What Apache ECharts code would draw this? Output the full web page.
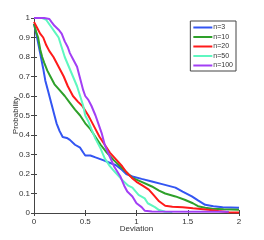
<!DOCTYPE html>
<html><head><meta charset="utf-8">
<script src="https://cdn.jsdelivr.net/npm/echarts@6/dist/echarts.min.js"></script>
<style>html,body{margin:0;padding:0;background:#fff}#c{width:264px;height:240px}</style>
</head><body><div id="c"></div>
<script>
var seriesNames = ['n=3','n=10','n=20','n=50','n=100'];
var xTicks = [0,0.5,1,1.5,2];
var n3 = [[0,0.97],[0.03,0.9],[0.06,0.82],[0.09,0.74],[0.11,0.68],[0.14,0.62],[0.17,0.56],[0.2,0.5],[0.22,0.46],[0.25,0.42],[0.28,0.39],[0.32,0.385],[0.35,0.375],[0.4,0.35],[0.45,0.335],[0.48,0.31],[0.5,0.295],[0.55,0.295],[0.6,0.285],[0.68,0.27],[0.75,0.255],[0.8,0.245],[0.85,0.225],[0.9,0.2],[0.96,0.187],[1.05,0.175],[1.15,0.162],[1.25,0.148],[1.38,0.13],[1.45,0.11],[1.54,0.085],[1.6,0.065],[1.67,0.042],[1.75,0.035],[1.84,0.029],[1.92,0.028],[2,0.027]];
var n10 = [[0,0.97],[0.02,0.93],[0.04,0.9],[0.06,0.84],[0.08,0.8],[0.1,0.77],[0.13,0.73],[0.16,0.7],[0.2,0.66],[0.25,0.63],[0.3,0.6],[0.35,0.565],[0.4,0.53],[0.45,0.5],[0.5,0.46],[0.55,0.43],[0.6,0.39],[0.65,0.35],[0.71,0.31],[0.78,0.27],[0.84,0.24],[0.9,0.21],[0.96,0.18],[1.05,0.16],[1.15,0.136],[1.22,0.115],[1.28,0.1],[1.38,0.085],[1.47,0.068],[1.55,0.05],[1.6,0.035],[1.67,0.027],[1.74,0.022],[1.85,0.019],[2,0.017]];
var n20 = [[0,0.98],[0.03,0.95],[0.06,0.92],[0.09,0.9],[0.12,0.86],[0.15,0.83],[0.19,0.8],[0.24,0.75],[0.29,0.7],[0.33,0.65],[0.38,0.6],[0.43,0.57],[0.47,0.55],[0.53,0.5],[0.55,0.48],[0.6,0.43],[0.64,0.39],[0.69,0.35],[0.74,0.31],[0.8,0.275],[0.86,0.24],[0.9,0.21],[0.955,0.18],[1.0,0.16],[1.06,0.14],[1.12,0.12],[1.17,0.09],[1.22,0.06],[1.28,0.037],[1.35,0.032],[1.45,0.029],[1.55,0.024],[1.7,0.017],[1.8,0.01],[1.9,0.004],[2,0.003]];
var n50 = [[0,1],[0.08,1],[0.12,0.99],[0.16,0.96],[0.2,0.93],[0.24,0.9],[0.27,0.85],[0.3,0.8],[0.34,0.75],[0.38,0.7],[0.42,0.65],[0.45,0.6],[0.48,0.55],[0.5,0.5],[0.53,0.47],[0.56,0.43],[0.6,0.38],[0.65,0.33],[0.69,0.28],[0.74,0.24],[0.79,0.21],[0.86,0.17],[0.92,0.14],[0.96,0.13],[1.02,0.093],[1.08,0.075],[1.11,0.05],[1.18,0.03],[1.22,0.015],[1.28,0.006],[1.35,0.005]];
var n100 = [[0,1],[0.1,1],[0.15,0.995],[0.17,0.98],[0.2,0.96],[0.24,0.94],[0.27,0.92],[0.3,0.88],[0.33,0.85],[0.35,0.82],[0.38,0.79],[0.42,0.75],[0.45,0.69],[0.48,0.63],[0.5,0.6],[0.53,0.58],[0.56,0.55],[0.6,0.5],[0.62,0.47],[0.66,0.41],[0.69,0.35],[0.73,0.3],[0.78,0.24],[0.84,0.19],[0.88,0.14],[0.91,0.11],[0.96,0.085],[1.0,0.05],[1.05,0.03],[1.08,0.012],[1.15,0.008],[1.9,0.006]];
var allData = [n3,n10,n20,n50,n100];
var colors = ['#3355f2','#2ea02a','#ff1a1a','#5ef7c0','#a23ff5'];

var chart = echarts.init(document.getElementById('c'));
var tickStyle = {inside:true,length:3,lineStyle:{color:'#444'}};
var lineSty = {show:true,lineStyle:{color:'#444',width:1}};
var lab = {fontSize:8,color:'#333',fontFamily:'Liberation Sans'};
chart.setOption({
  animation:false,
  color:colors,
  grid:{left:34,right:25,top:18,bottom:27,containLabel:false,outerBoundsMode:'none'},
  legend:{
    data:seriesNames, orient:'vertical', right:28, top:21,
    backgroundColor:'#fff', borderColor:'#444', borderWidth:1,
    padding:[2,3,1,3], itemGap:0.5, itemWidth:19, itemHeight:2, icon:'rect',
    textStyle:{fontSize:7,color:'#333',lineHeight:9,padding:[0,0,0,-4],fontFamily:'Liberation Sans'}
  },
  xAxis:[
    {type:'value',min:0,max:2,interval:0.5,position:'bottom',axisLine:lineSty,axisTick:tickStyle,splitLine:{show:false},
     axisLabel:Object.assign({margin:5,formatter:function(v){return String(v);}},lab),
     name:'Deviation',nameLocation:'middle',nameGap:12,nameMoveOverlap:false,nameTextStyle:{fontSize:8,color:'#333',fontFamily:'Liberation Sans'}},
    {type:'value',min:0,max:2,interval:0.5,position:'top',axisLine:lineSty,axisTick:tickStyle,axisLabel:{show:false},splitLine:{show:false}}
  ],
  yAxis:[
    {type:'value',min:0,max:1,interval:0.1,position:'left',axisLine:lineSty,axisTick:tickStyle,splitLine:{show:false},
     axisLabel:Object.assign({margin:4,formatter:function(v){return (v===0||v===1)?String(v):v.toFixed(1);}},lab),
     name:'Probability',nameLocation:'middle',nameGap:14,nameMoveOverlap:false,nameTextStyle:{fontSize:8,color:'#333',fontFamily:'Liberation Sans'}},
    {type:'value',min:0,max:1,interval:0.1,position:'right',axisLine:lineSty,axisTick:tickStyle,axisLabel:{show:false},splitLine:{show:false}}
  ],
  series: allData.map(function(d,i){
    return {name:seriesNames[i],type:'line',data:d,showSymbol:false,symbol:'none',
      lineStyle:{width:2,color:colors[i]},itemStyle:{color:colors[i]}};
  })
});
</script></body></html>
